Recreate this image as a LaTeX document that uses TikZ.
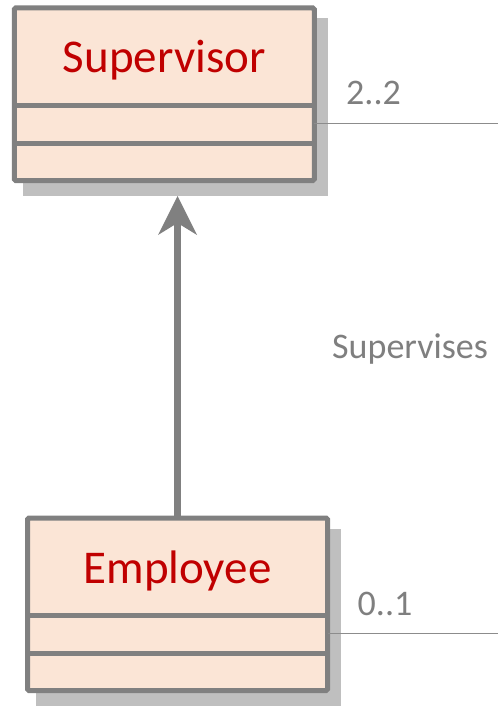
\documentclass[tikz,border=0pt]{standalone}
\usepackage{fontspec}
\setmainfont{Carlito}
\usetikzlibrary{arrows.meta,calc}
\definecolor{classfill}{HTML}{FBE5D6}
\definecolor{classline}{HTML}{808080}
\definecolor{classname}{HTML}{C00000}
\definecolor{shadowgray}{HTML}{BFBFBF}
\definecolor{labelgray}{HTML}{7F7F7F}
\definecolor{assocline}{HTML}{8C8C8C}
\begin{document}
\begin{tikzpicture}[x=1pt,y=-1pt,
  classbox/.style={draw=classline, line width=5pt, fill=classfill,
    rounded corners=1.5pt, minimum width=300pt, minimum height=172.5pt,
    inner sep=0pt, outer sep=0pt},
  classshadow/.style={fill=shadowgray, minimum width=305pt,
    minimum height=177.5pt, inner sep=0pt, outer sep=0pt},
  classname/.style={text=classname, font=\fontsize{47}{50}\selectfont,
    anchor=base, inner sep=0pt},
  divider/.style={draw=classline, line width=5pt},
  assoc/.style={draw=assocline, line width=1.5pt},
  inherit/.style={draw=classline, line width=6.5pt,
    -{Stealth[length=39pt, width=39pt, inset=12pt, line width=0pt]}},
  mult/.style={text=labelgray, font=\fontsize{36}{40}\selectfont,
    anchor=base west, inner sep=0pt}
]
\useasboundingbox (0,0) rectangle (498,706);

% drop shadows
\node[classshadow] (supshadow) at (175.25,107.25) {};
\node[classshadow] (empshadow) at (188.5,617.25) {};

% association end points at the right border
\coordinate (supend) at (498,123.5);
\coordinate (empend) at (498,633.5);

% class boxes
\node[classbox] (sup) at (164.25,94.25) {};
\node[classbox] (emp) at (177.5,604.25) {};

% association lines
\draw[assoc] (sup.east |- supend) -- (supend);
\draw[assoc] (emp.east |- empend) -- (empend);

% compartments
\foreach \c in {sup,emp}{
  \draw[divider] ($(\c.north west)+(0,97.5)$) -- ($(\c.north east)+(0,97.5)$);
  \draw[divider] ($(\c.north west)+(0,135.5)$) -- ($(\c.north east)+(0,135.5)$);
}

% class names
\node[classname] (supname) at ($(sup.north)+(0,65)$) {Supervisor};
\node[classname] (empname) at ($(emp.north)+(0,65)$) {Employee};

% generalisation
\draw[inherit] (emp.north) -- (emp.north |- supshadow.south);

% labels
\node[mult] (supmult) at (346,105) {2..2};
\node[mult] (assocname) at (332,358) {Supervises};
\node[mult] (empmult) at (357.5,615) {0..1};
\end{tikzpicture}
\end{document}
